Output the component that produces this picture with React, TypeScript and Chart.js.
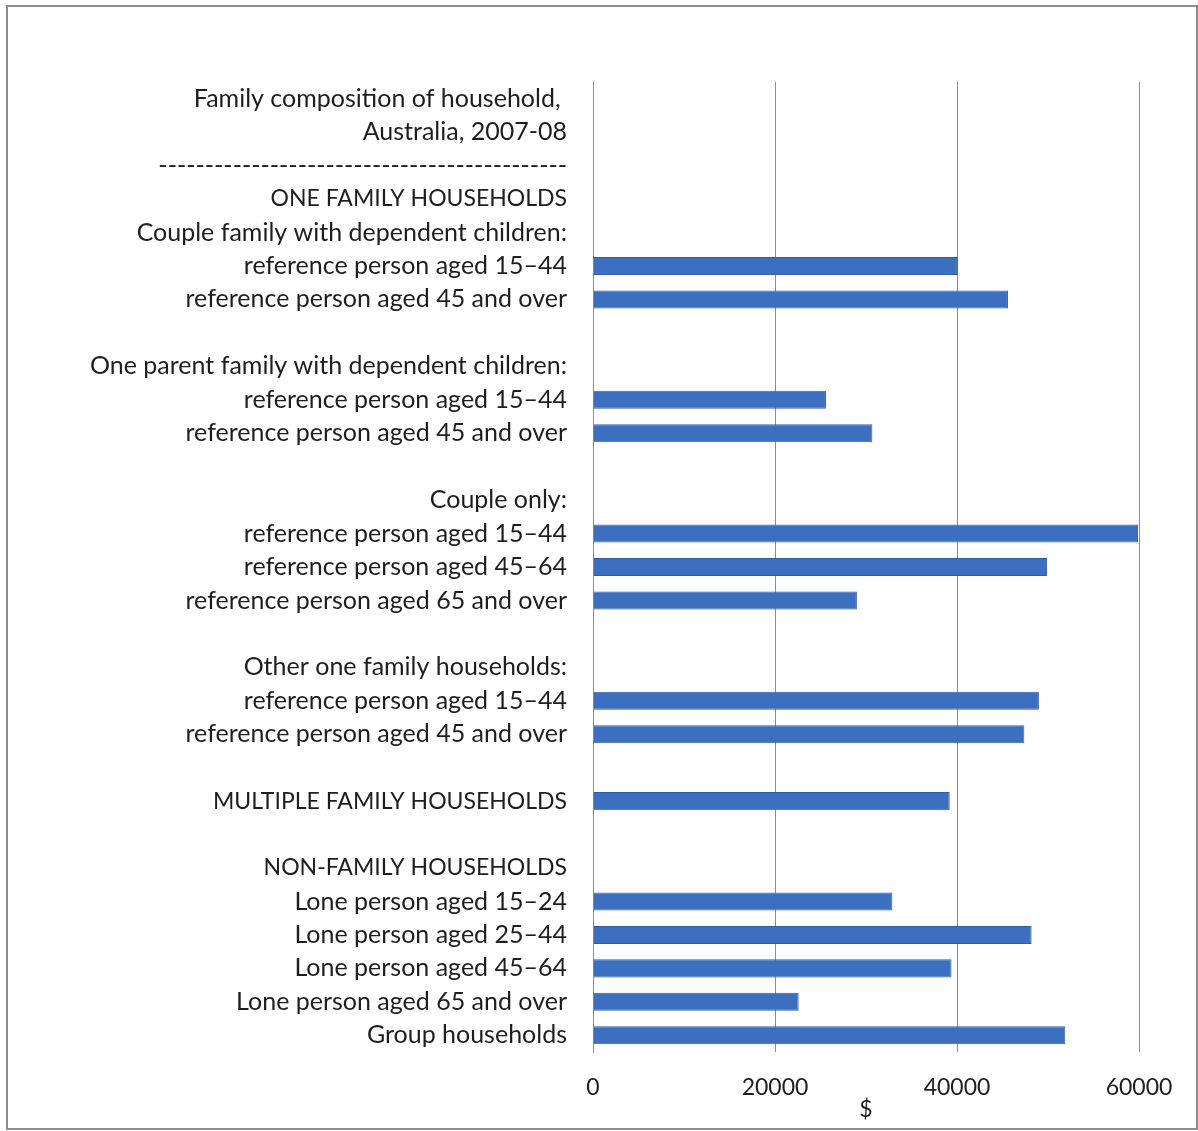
import { useEffect, useRef } from "react";
import { Chart, registerables } from "chart.js";

Chart.register(...registerables);

const categories: string[] = [
  "Family composition of household, ",
  "Australia, 2007-08",
  "--------------------------------------------",
  "ONE FAMILY HOUSEHOLDS",
  "Couple family with dependent children:",
  "reference person aged 15–44",
  "reference person aged 45 and over",
  "",
  "One parent family with dependent children:",
  "reference person aged 15–44",
  "reference person aged 45 and over",
  " ",
  "Couple only:",
  "reference person aged 15–44",
  "reference person aged 45–64",
  "reference person aged 65 and over",
  "  ",
  "Other one family households:",
  "reference person aged 15–44",
  "reference person aged 45 and over",
  "   ",
  "MULTIPLE FAMILY HOUSEHOLDS",
  "    ",
  "NON-FAMILY HOUSEHOLDS",
  "Lone person aged 15–24",
  "Lone person aged 25–44",
  "Lone person aged 45–64",
  "Lone person aged 65 and over",
  "Group households",
];

const incomeValues: (number | null)[] = [
  null,
  null,
  null,
  null,
  null,
  40100,
  45600,
  null,
  null,
  25600,
  30700,
  null,
  null,
  59900,
  49900,
  29000,
  null,
  null,
  49000,
  47400,
  null,
  39200,
  null,
  null,
  32900,
  48200,
  39400,
  22600,
  51900,
];

const xTickValues: number[] = [0, 20000, 40000, 60000];
const xAxisTitle = "$";

const FONT_FAMILY = "Lato, 'Open Sans', sans-serif";
const TEXT_COLOR = "#1e1e1e";
const GRID_COLOR = "#8e8e8e";

const isUpperHeading = (s: string) => /[A-Z]/.test(s) && s === s.toUpperCase();

export default function App() {
  const canvasRef = useRef<HTMLCanvasElement>(null);

  useEffect(() => {
    document.body.style.margin = "0";
    const canvas = canvasRef.current;
    if (!canvas) return;
    const chart = new Chart(canvas, {
      type: "bar",
      data: {
        labels: categories,
        datasets: [
          {
            data: incomeValues,
            backgroundColor: "#3d6fc1",
            borderColor: "#2f5ea9",
            borderWidth: 1,
            barPercentage: 0.54,
            categoryPercentage: 1,
          },
        ],
      },
      options: {
        indexAxis: "y",
        animation: false,
        responsive: false,
        layout: { padding: { top: 82, right: 59, bottom: 0, left: 0 } },
        plugins: {
          legend: { display: false },
          tooltip: { enabled: false },
        },
        scales: {
          x: {
            min: 0,
            max: 60000,
            afterBuildTicks: (scale: any) => {
              scale.ticks = xTickValues.map((v) => ({ value: v }));
            },
            ticks: {
              padding: 22,
              color: TEXT_COLOR,
              font: { family: FONT_FAMILY, size: 23 },
              callback: (v: any) => String(v),
            },
            grid: { color: GRID_COLOR, lineWidth: 1, drawTicks: false },
            border: { display: false },
            title: {
              display: true,
              text: xAxisTitle,
              color: TEXT_COLOR,
              font: { family: FONT_FAMILY, size: 23 },
              padding: { top: 0, bottom: 8 },
            },
            afterFit: (scale: any) => {
              scale.height = 79;
            },
          },
          y: {
            ticks: {
              autoSkip: false,
              padding: 26,
              color: TEXT_COLOR,
              font: (ctx: any) => {
                const label = categories[ctx.index] ?? "";
                return { family: FONT_FAMILY, size: isUpperHeading(label) ? 23 : 25 };
              },
            },
            grid: { display: false, drawTicks: false },
            border: { display: true, color: GRID_COLOR, width: 1 },
            afterFit: (scale: any) => {
              scale.width = 593;
            },
          },
        },
      },
    });
    return () => chart.destroy();
  }, []);

  return (
    <div style={{ position: "relative", width: 1198, height: 1131, background: "#ffffff" }}>
      <canvas
        ref={canvasRef}
        width={1198}
        height={1131}
        style={{ position: "absolute", left: 0, top: 0, width: 1198, height: 1131 }}
      />
      <div
        style={{
          position: "absolute",
          left: 6,
          top: 5,
          width: 1188,
          height: 1121,
          border: "2px solid #8d8d8d",
          pointerEvents: "none",
        }}
      />
    </div>
  );
}
